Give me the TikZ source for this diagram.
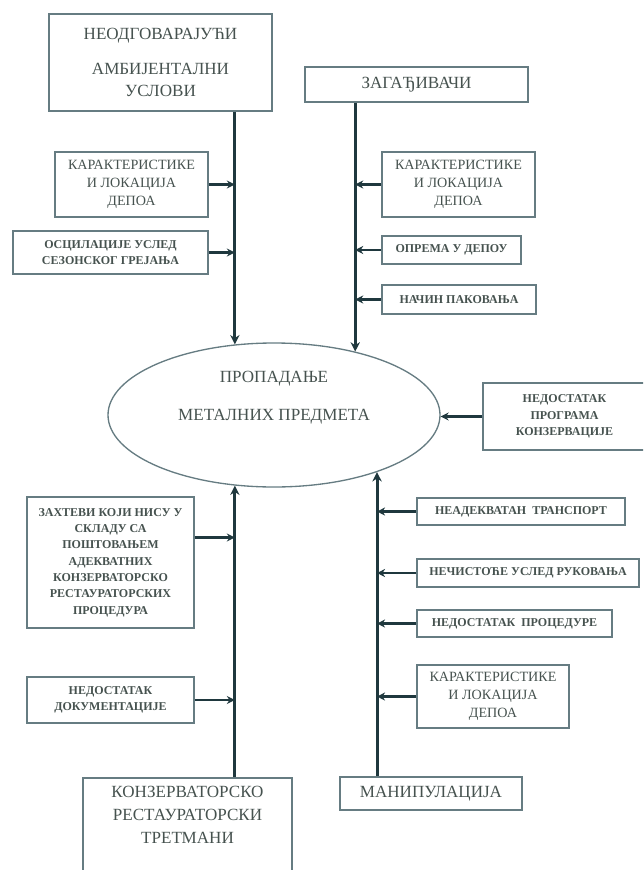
\documentclass[tikz,border=0pt]{standalone}
\usepackage{fontspec}
\setmainfont{Liberation Serif}
\usetikzlibrary{arrows.meta,shapes.geometric}
\definecolor{okvir}{HTML}{667C82}
\definecolor{linija}{HTML}{1F383E}
\definecolor{slova}{HTML}{46524F}
\newcommand{\veliki}{\fontsize{12.8}{17}\selectfont}
\newcommand{\srednji}{\fontsize{10.6}{13.5}\selectfont}
\newcommand{\mali}{\fontsize{9}{12.2}\selectfont\bfseries}
\tikzstyle{box} = [draw=okvir, line width=1.3pt, text=slova, align=center, inner sep=0pt]
\tikzstyle{bigbox} = [box, font=\veliki]
\tikzstyle{midbox} = [box, font=\srednji]
\tikzstyle{smallbox} = [box, font=\mali]
\tikzstyle{stub} = [line width=2.2pt, draw=linija, ->, >={Stealth[length=7pt, width=7pt]}]
\tikzstyle{arrow} = [line width=1.6pt, draw=linija, ->, >={Stealth[length=6pt, width=6pt]}]

\begin{document}
\begin{tikzpicture}[x=0.75pt, y=-0.75pt]
    \useasboundingbox (0,0) rectangle (643,870);
    \clip (0,0) rectangle (643,870);
    % centar
    \node (prop) [ellipse, draw=okvir, line width=1pt, minimum width=249pt, minimum height=108pt,
        label={[text=slova, font=\veliki, align=center, yshift=13pt]center:{ПРОПАДАЊЕ\\[12pt]МЕТАЛНИХ ПРЕДМЕТА}}] at (274,415) {};
    % gore
    \node (amb) [bigbox, minimum width=167.25pt, minimum height=72.75pt] at (160.5,62.5) {НЕОДГОВАРАЈУЋИ\\[9pt]АМБИЈЕНТАЛНИ\\УСЛОВИ};
    \node (zag) [bigbox, minimum width=167.25pt, minimum height=26.25pt] at (416.5,84.5) {ЗАГАЂИВАЧИ};
    \node (karA) [midbox, minimum width=114.75pt, minimum height=48.75pt] at (131.5,184.5) {КАРАКТЕРИСТИКЕ\\И ЛОКАЦИЈА\\ДЕПОА};
    \node (osc) [smallbox, minimum width=146.25pt, minimum height=32.25pt] at (110.5,252.5) {ОСЦИЛАЦИЈЕ УСЛЕД\\СЕЗОНСКОГ ГРЕЈАЊА};
    \node (karB) [midbox, minimum width=114.75pt, minimum height=48.75pt] at (458.5,184.5) {КАРАКТЕРИСТИКЕ\\И ЛОКАЦИЈА\\ДЕПОА};
    \node (opr) [smallbox, minimum width=104.25pt, minimum height=21pt] at (451.5,250) {ОПРЕМА У ДЕПОУ};
    \node (nac) [smallbox, minimum width=115.5pt, minimum height=21.75pt] at (459,299.5) {НАЧИН ПАКОВАЊА};
    \node (prog) [smallbox, minimum width=122.25pt, minimum height=50.25pt] at (564.5,416.5) {НЕДОСТАТАК\\ПРОГРАМА\\КОНЗЕРВАЦИЈЕ};
    % dole
    \node (zah) [smallbox, minimum width=125.25pt, minimum height=98.25pt] at (110.5,562.5) {ЗАХТЕВИ КОЈИ НИСУ У\\СКЛАДУ СА\\ПОШТОВАЊЕМ\\АДЕКВАТНИХ\\КОНЗЕРВАТОРСКО\\РЕСТАУРАТОРСКИХ\\ПРОЦЕДУРА};
    \node (dok) [smallbox, minimum width=125.25pt, minimum height=34.5pt] at (110.5,700) {НЕДОСТАТАК\\ДОКУМЕНТАЦИЈЕ};
    \node (trt) [bigbox, minimum width=156.75pt, minimum height=97.5pt, anchor=north,
        label={[anchor=north, yshift=-7pt, inner sep=0pt, text=slova, font=\veliki, align=center]north:{КОНЗЕРВАТОРСКО\\РЕСТАУРАТОРСКИ\\ТРЕТМАНИ}}] at (187.5,777) {};
    \node (nead) [smallbox, minimum width=156pt, minimum height=20.25pt] at (521,511.5) {НЕАДЕКВАТАН\ \ ТРАНСПОРТ};
    \node (nec) [smallbox, minimum width=166.5pt, minimum height=21pt] at (528,573) {НЕЧИСТОЋЕ УСЛЕД РУКОВАЊА};
    \node (proc) [smallbox, minimum width=146.25pt, minimum height=20.25pt] at (514.5,623.5) {НЕДОСТАТАК\ \ ПРОЦЕДУРЕ};
    \node (karC) [midbox, minimum width=114pt, minimum height=47.25pt] at (493,696.5) {КАРАКТЕРИСТИКЕ\\И ЛОКАЦИЈА\\ДЕПОА};
    \node (man) [bigbox, minimum width=136.5pt, minimum height=24.75pt] at (431,793.5) {МАНИПУЛАЦИЈА};

    % glavne linije
    \draw [stub] (amb.south -| prop.119.8) -- (prop.119.8);
    \draw [stub] (zag.south -| prop.38.2) -- (prop.38.2);
    \draw [stub] (trt.north -| prop.-119.8) -- (prop.-119.8);
    \draw [stub] (man.north -| prop.-29.4) -- (prop.-29.4);
    % sporedne strelice
    \draw [arrow] (karA.east) -- (karA.east -| prop.119.8);
    \draw [arrow] (osc.east) -- (osc.east -| prop.119.8);
    \draw [arrow] (karB.west) -- (karB.west -| prop.38.2);
    \draw [arrow] (opr.west) -- (opr.west -| prop.38.2);
    \draw [arrow] (nac.west) -- (nac.west -| prop.38.2);
    \draw [arrow] (prog.west) -- (prog.west -| prop.east);
    \draw [arrow] ([yshift=18.75pt]zah.east) -- ([yshift=18.75pt]zah.east -| prop.-119.8);
    \draw [arrow] (dok.east) -- (dok.east -| prop.-119.8);
    \draw [arrow] (nead.west) -- (nead.west -| prop.-29.4);
    \draw [arrow] (nec.west) -- (nec.west -| prop.-29.4);
    \draw [arrow] (proc.west) -- (proc.west -| prop.-29.4);
    \draw [arrow] (karC.west) -- (karC.west -| prop.-29.4);
\end{tikzpicture}
\end{document}
